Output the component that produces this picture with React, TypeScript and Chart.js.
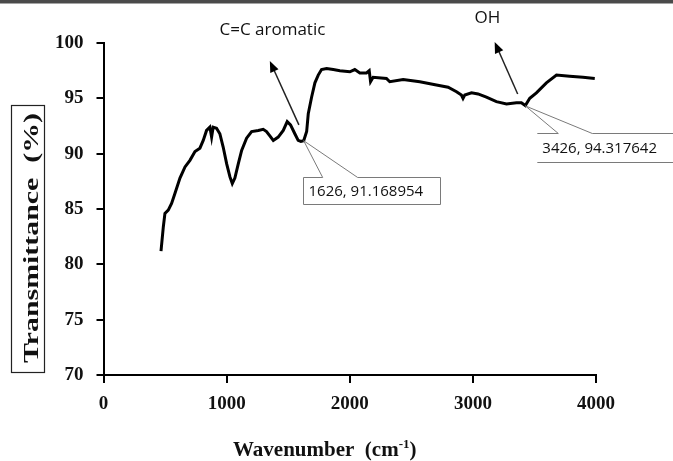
import React, { useEffect, useRef } from "react";
import { Chart, registerables } from "chart.js";

Chart.register(...registerables);

// Wavenumber (cm-1)
const wavenumbers = [
  467, 486, 499, 526, 553, 580, 621, 662, 702, 743, 783, 810, 837, 864, 878, 891, 918, 945,
  972, 1000, 1027, 1046, 1067, 1095, 1122, 1162, 1203, 1257, 1297, 1324, 1351, 1379, 1419,
  1460, 1492, 1519, 1554, 1581, 1603, 1626, 1650, 1663, 1690, 1717, 1744, 1771, 1812, 1866,
  1920, 2001, 2041, 2082, 2136, 2158, 2169, 2190, 2298, 2325, 2434, 2569, 2704, 2799, 2867,
  2907, 2920, 2934, 2989, 3042, 3110, 3191, 3273, 3354, 3394, 3426, 3462, 3516, 3597, 3679,
  3786, 3894, 3990,
];
// Transmittance (%)
const transmittance = [
  81.2, 83.4, 84.6, 84.9, 85.5, 86.4, 87.8, 88.8, 89.4, 90.2, 90.5, 91.2, 92.1, 92.4, 91.5,
  92.4, 92.3, 91.8, 90.6, 89.1, 87.9, 87.3, 87.8, 89.1, 90.3, 91.4, 92.0, 92.1, 92.2, 92.0,
  91.6, 91.2, 91.5, 92.1, 92.9, 92.6, 91.8, 91.2, 91.1, 91.17, 92.0, 93.6, 95.1, 96.4, 97.1,
  97.6, 97.7, 97.6, 97.5, 97.4, 97.6, 97.3, 97.3, 97.5, 96.5, 96.9, 96.8, 96.5, 96.7, 96.5,
  96.2, 96.0, 95.6, 95.3, 95.0, 95.3, 95.5, 95.4, 95.1, 94.7, 94.5, 94.6, 94.6, 94.35, 95.0,
  95.5, 96.4, 97.1, 97.0, 96.9, 96.8,
];

const xTicks = [0, 1000, 2000, 3000, 4000];
const yTicks = [70, 75, 80, 85, 90, 95, 100];

const xTitle = "Wavenumber  (cm";
const xTitleSup = "-1";
const yTitle = "Transmittance  (%)";

const peakLabels = ["C=C aromatic", "OH"];
const peakPoints = [
  { x: 1626, y: 91.168954 },
  { x: 3426, y: 94.317642 },
];
// arrow start / tip and label anchor, in data units
const arrowStarts = [
  { x: 1587, y: 92.6 },
  { x: 3364, y: 95.39 },
];
const arrowTips = [
  { x: 1351, y: 98.37 },
  { x: 3177, y: 100.09 },
];
const labelAnchors = [
  { x: 1372, y: 101.2 },
  { x: 3117, y: 102.25 },
];

const serif = '"Liberation Serif", "Times New Roman", serif';
const sans = '"Open Sans", "Noto Sans", sans-serif';

function drawArrow(ctx: CanvasRenderingContext2D, x0: number, y0: number, x1: number, y1: number) {
  const ang = Math.atan2(y1 - y0, x1 - x0);
  const hl = 11;
  const hw = 4.5;
  ctx.save();
  ctx.strokeStyle = "#222";
  ctx.lineWidth = 1.5;
  ctx.beginPath();
  ctx.moveTo(x0, y0);
  ctx.lineTo(x1 - Math.cos(ang) * hl * 0.8, y1 - Math.sin(ang) * hl * 0.8);
  ctx.stroke();
  ctx.fillStyle = "#000";
  ctx.beginPath();
  ctx.moveTo(x1, y1);
  const bx = x1 - Math.cos(ang) * hl;
  const by = y1 - Math.sin(ang) * hl;
  ctx.lineTo(bx + Math.sin(ang) * hw, by - Math.cos(ang) * hw);
  ctx.lineTo(bx - Math.sin(ang) * hw, by + Math.cos(ang) * hw);
  ctx.closePath();
  ctx.fill();
  ctx.restore();
}

const decorPlugin = {
  id: "decor",
  afterDraw(chart: any) {
    const ctx: CanvasRenderingContext2D = chart.ctx;
    const xs = chart.scales.x;
    const ys = chart.scales.y;
    const px = (v: number) => xs.getPixelForValue(v);
    const py = (v: number) => ys.getPixelForValue(v);
    ctx.save();

    // top rule
    ctx.fillStyle = "#4a4a4a";
    ctx.fillRect(0, 0, chart.width, 3.5);

    // y title with box
    ctx.save();
    ctx.font = `bold 22px ${serif}`;
    const w = ctx.measureText(yTitle).width;
    const cy = 238;
    ctx.translate(37.5, cy);
    ctx.rotate(-Math.PI / 2);
    ctx.scale(250 / w, 1);
    ctx.fillStyle = "#111";
    ctx.textAlign = "center";
    ctx.textBaseline = "alphabetic";
    ctx.fillText(yTitle, 0, 0);
    ctx.restore();
    ctx.strokeStyle = "#222";
    ctx.lineWidth = 1.2;
    ctx.strokeRect(11.5, 105.5, 33, 267);

    // x title with superscript
    ctx.fillStyle = "#111";
    ctx.textAlign = "left";
    ctx.textBaseline = "alphabetic";
    ctx.font = `bold 21px ${serif}`;
    let tx = 233;
    const base = 456;
    ctx.fillText(xTitle, tx, base);
    tx += ctx.measureText(xTitle).width;
    ctx.font = `bold 13px ${serif}`;
    ctx.fillText(xTitleSup, tx, base - 8);
    tx += ctx.measureText(xTitleSup).width;
    ctx.font = `bold 21px ${serif}`;
    ctx.fillText(")", tx, base);

    // arrows and peak names
    for (let i = 0; i < peakLabels.length; i++) {
      drawArrow(ctx, px(arrowStarts[i].x), py(arrowStarts[i].y), px(arrowTips[i].x), py(arrowTips[i].y));
      ctx.font = `17px ${sans}`;
      ctx.fillStyle = "#111";
      ctx.textAlign = "center";
      ctx.textBaseline = "middle";
      ctx.fillText(peakLabels[i], px(labelAnchors[i].x), py(labelAnchors[i].y));
    }

    // callout 1 (boxed)
    ctx.strokeStyle = "#7a7a7a";
    ctx.lineWidth = 1;
    const p1x = px(peakPoints[0].x);
    const p1y = py(peakPoints[0].y);
    const bl = Math.round(p1x - 1) + 0.5;
    const br = Math.round(p1x + 136) + 0.5;
    const bt = Math.round(p1y + 36) + 0.5;
    const bb = Math.round(p1y + 63) + 0.5;
    ctx.beginPath();
    ctx.moveTo(p1x + 19, bt);
    ctx.lineTo(bl, bt);
    ctx.lineTo(bl, bb);
    ctx.lineTo(br, bb);
    ctx.lineTo(br, bt);
    ctx.lineTo(p1x + 54, bt);
    ctx.lineTo(p1x, p1y);
    ctx.closePath();
    ctx.fillStyle = "#fff";
    ctx.fill();
    ctx.stroke();
    ctx.fillStyle = "#111";
    ctx.font = `15px ${sans}`;
    ctx.textAlign = "left";
    ctx.textBaseline = "middle";
    ctx.fillText(`${peakPoints[0].x}, ${peakPoints[0].y}`, bl + 5, (bt + bb) / 2 + 0.5);

    // callout 2 (top and bottom rules only)
    const p2x = px(peakPoints[1].x);
    const p2y = py(peakPoints[1].y);
    const t2 = Math.round(p2y + 27) + 0.5;
    const b2 = Math.round(p2y + 56) + 0.5;
    const l2 = p2x + 12;
    ctx.beginPath();
    ctx.moveTo(l2, t2);
    ctx.lineTo(p2x + 33, t2);
    ctx.lineTo(p2x, p2y);
    ctx.lineTo(p2x + 67, t2);
    ctx.lineTo(chart.width, t2);
    ctx.moveTo(l2, b2);
    ctx.lineTo(chart.width, b2);
    ctx.stroke();
    ctx.fillText(`${peakPoints[1].x}, ${peakPoints[1].y}`, l2 + 5, (t2 + b2) / 2 + 1);

    ctx.restore();
  },
};

export default function App() {
  const ref = useRef<HTMLCanvasElement | null>(null);
  useEffect(() => {
    document.body.style.margin = "0";
    const canvas = ref.current!;
    const tickFont = { family: serif, size: 19, weight: "bold" as const };
    const chart = new Chart(canvas, {
      type: "line",
      data: {
        datasets: [
          {
            data: wavenumbers.map((x, i) => ({ x, y: transmittance[i] })),
            borderColor: "#000",
            borderWidth: 3,
            pointRadius: 0,
            tension: 0,
            fill: false,
          },
        ],
      },
      options: {
        animation: false,
        responsive: false,
        devicePixelRatio: 1,
        layout: { padding: { top: 43, right: 77, left: 0, bottom: 0 } },
        plugins: { legend: { display: false }, tooltip: { enabled: false } },
        scales: {
          x: {
            type: "linear",
            min: xTicks[0],
            max: xTicks[xTicks.length - 1],
            afterBuildTicks: (s: any) => {
              s.ticks = xTicks.map((v) => ({ value: v }));
            },
            ticks: {
              font: tickFont,
              color: "#111",
              padding: 10,
              maxRotation: 0,
              autoSkip: false,
              callback: (v: any) => String(v),
            },
            grid: { drawOnChartArea: false, drawTicks: true, tickLength: 8, color: "#000", lineWidth: 2 },
            border: { color: "#000", width: 2 },
            afterFit: (s: any) => {
              s.height = 86;
            },
          },
          y: {
            type: "linear",
            min: yTicks[0],
            max: yTicks[yTicks.length - 1],
            afterBuildTicks: (s: any) => {
              s.ticks = yTicks.map((v) => ({ value: v }));
            },
            ticks: { font: tickFont, color: "#111", padding: 13, autoSkip: false, callback: (v: any) => String(v) },
            grid: { drawOnChartArea: false, drawTicks: true, tickLength: 7, color: "#000", lineWidth: 2 },
            border: { color: "#000", width: 2 },
            afterFit: (s: any) => {
              s.width = 103.5;
            },
          },
        },
      },
      plugins: [decorPlugin],
    });
    return () => chart.destroy();
  }, []);
  return (
    <div style={{ position: "absolute", left: 0, top: 0, width: 673, height: 461, background: "#fff" }}>
      <canvas ref={ref} width={673} height={461} />
    </div>
  );
}
